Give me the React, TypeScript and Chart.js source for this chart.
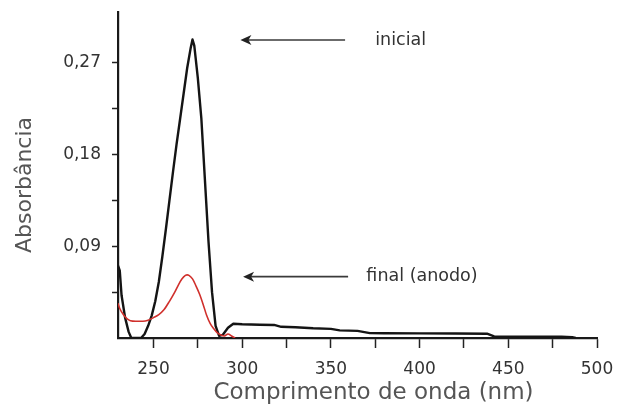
import React, { useEffect, useRef } from "react";
import { Chart, registerables } from "chart.js";

Chart.register(...registerables);

// Spectrum "inicial" (black)
const wavelengthsInicial = [
  230, 231, 232, 234, 236, 237.5, 240, 243, 245, 247, 249, 251, 253, 255, 257, 259, 261, 263,
  265, 267, 269, 271, 272, 273, 275, 277, 279, 281, 283, 285, 287, 289, 292, 295, 300, 310,
  318, 322, 330, 340, 350, 355, 365, 372, 380, 400, 420, 438, 442, 460, 480, 486, 488,
];
const absorbInicial = [
  0.071, 0.066, 0.042, 0.02, 0.006, 0.0, 0.0, 0.0, 0.004, 0.012, 0.022, 0.036, 0.055, 0.08,
  0.107, 0.135, 0.163, 0.19, 0.215, 0.24, 0.265, 0.285, 0.293, 0.287, 0.255, 0.215, 0.155,
  0.095, 0.045, 0.012, 0.002, 0.003, 0.01, 0.014, 0.0135, 0.013, 0.0128, 0.011, 0.0105,
  0.0095, 0.009, 0.0075, 0.007, 0.0048, 0.0046, 0.0045, 0.0044, 0.0042, 0.0015, 0.0013,
  0.0013, 0.0008, 0.0,
];

// Spectrum "final (anodo)" (red)
const wavelengthsFinal = [
  230, 231, 233, 235, 237, 240, 244, 247, 250, 253, 256, 259, 262, 264, 266, 268, 269, 270,
  272, 274, 276, 278, 280, 282, 284, 286, 288, 290, 292, 294, 296,
];
const absorbFinal = [
  0.034, 0.029, 0.023, 0.019, 0.017, 0.0165, 0.0165, 0.0175, 0.02, 0.023, 0.028, 0.036,
  0.045, 0.052, 0.058, 0.0615, 0.062, 0.0615, 0.058, 0.051, 0.043, 0.033, 0.022, 0.014,
  0.009, 0.005, 0.003, 0.002, 0.004, 0.002, 0.0,
];

const xTickValues = [250, 275, 300, 325, 350, 375, 400, 425, 450, 475, 500];
const xLabelValues = [250, 300, 350, 400, 450, 500];
const yTickValues = [0.045, 0.09, 0.135, 0.18, 0.225, 0.27];
const yLabelValues = [0.09, 0.18, 0.27];

const annotationLabels = ["inicial", "final (anodo)"];
const annotationHeadX = [299, 300.5];
const annotationTailX = [358, 359.7];
const annotationY = [0.2925, 0.0602];
const annotationTextX = [375, 370];

const xTitle = "Comprimento de onda (nm)";
const yTitle = "Absorbância";

const FONT = '"DejaVu Sans", "Liberation Sans", sans-serif';

const overlayPlugin = {
  id: "overlay",
  afterDraw(chart: any) {
    const { ctx, chartArea } = chart;
    const xs = chart.scales.x;
    const ys = chart.scales.y;
    ctx.save();
    for (let i = 0; i < annotationLabels.length; i++) {
      const hx = xs.getPixelForValue(annotationHeadX[i]);
      const tx = xs.getPixelForValue(annotationTailX[i]);
      const y = ys.getPixelForValue(annotationY[i]);
      ctx.strokeStyle = "#3a3a3a";
      ctx.lineWidth = 1.6;
      ctx.beginPath();
      ctx.moveTo(tx, y);
      ctx.lineTo(hx + 6, y);
      ctx.stroke();
      ctx.fillStyle = "#222";
      ctx.beginPath();
      ctx.moveTo(hx, y);
      ctx.lineTo(hx + 11, y - 5);
      ctx.lineTo(hx + 8, y);
      ctx.lineTo(hx + 11, y + 5);
      ctx.closePath();
      ctx.fill();
      ctx.font = `17.5px ${FONT}`;
      ctx.fillStyle = "#333";
      ctx.textAlign = "left";
      ctx.textBaseline = "middle";
      ctx.fillText(annotationLabels[i], xs.getPixelForValue(annotationTextX[i]), y);
    }
    // axis titles
    ctx.fillStyle = "#555";
    ctx.textAlign = "center";
    ctx.textBaseline = "middle";
    ctx.font = `23px ${FONT}`;
    ctx.fillText(xTitle, (chartArea.left + chartArea.right) / 2 + 16, 393);
    ctx.save();
    ctx.translate(25, (chartArea.top + chartArea.bottom) / 2 + 10);
    ctx.rotate(-Math.PI / 2);
    ctx.font = `22px ${FONT}`;
    ctx.fillText(yTitle, 0, 0);
    ctx.restore();
    ctx.restore();
  },
};

export default function App() {
  const canvasRef = useRef<HTMLCanvasElement | null>(null);

  useEffect(() => {
    const canvas = canvasRef.current;
    if (!canvas) return;
    const chart = new Chart(canvas, {
      type: "line",
      data: {
        datasets: [
          {
            label: "final (anodo)",
            data: wavelengthsFinal.map((x, i) => ({ x, y: absorbFinal[i] })),
            borderColor: "#d0302c",
            borderWidth: 1.6,
            pointRadius: 0,
            cubicInterpolationMode: "monotone",
            fill: false,
          },
          {
            label: "inicial",
            data: wavelengthsInicial.map((x, i) => ({ x, y: absorbInicial[i] })),
            borderColor: "#141414",
            borderWidth: 2.4,
            pointRadius: 0,
            tension: 0,
            borderJoinStyle: "round",
            fill: false,
          },
        ],
      },
      options: {
        animation: false,
        responsive: false,
        maintainAspectRatio: false,
        layout: { padding: { top: 12, right: 35, bottom: 0, left: 0 } },
        plugins: { legend: { display: false }, tooltip: { enabled: false } },
        scales: {
          x: {
            type: "linear",
            min: 230,
            max: 500,
            afterBuildTicks: (scale: any) => {
              scale.ticks = xTickValues.map((v) => ({ value: v }));
            },
            afterFit: (scale: any) => {
              scale.height = 80;
            },
            ticks: {
              autoSkip: false,
              maxRotation: 0,
              padding: 11,
              color: "#333",
              font: { family: FONT, size: 17 },
              callback: (v: any) => (xLabelValues.includes(Number(v)) ? String(v) : ""),
            },
            grid: {
              drawOnChartArea: false,
              drawTicks: true,
              tickLength: 10,
              tickColor: "#222",
              tickWidth: 1.5,
            },
            border: { color: "#1a1a1a", width: 2.2 },
            title: { display: false },
          },
          y: {
            type: "linear",
            min: 0,
            max: 0.32,
            afterBuildTicks: (scale: any) => {
              scale.ticks = yTickValues.map((v) => ({ value: v }));
            },
            afterFit: (scale: any) => {
              scale.width = 118;
              scale.paddingTop = 0;
              scale.paddingBottom = 0;
            },
            ticks: {
              autoSkip: false,
              padding: 11,
              color: "#333",
              font: { family: FONT, size: 17 },
              callback: (v: any) => {
                const n = Number(v);
                return yLabelValues.some((l) => Math.abs(l - n) < 1e-9)
                  ? n.toFixed(2).replace(".", ",")
                  : "";
              },
            },
            grid: {
              drawOnChartArea: false,
              drawTicks: true,
              tickLength: 6,
              tickColor: "#222",
              tickWidth: 1.5,
            },
            border: { color: "#1a1a1a", width: 2.2 },
            title: { display: false },
          },
        },
      },
      plugins: [overlayPlugin],
    });
    return () => chart.destroy();
  }, []);

  return (
    <div style={{ position: "fixed", left: 0, top: 0, width: 632, height: 418, background: "#fff" }}>
      <canvas ref={canvasRef} width={632} height={418} style={{ display: "block" }} />
    </div>
  );
}
